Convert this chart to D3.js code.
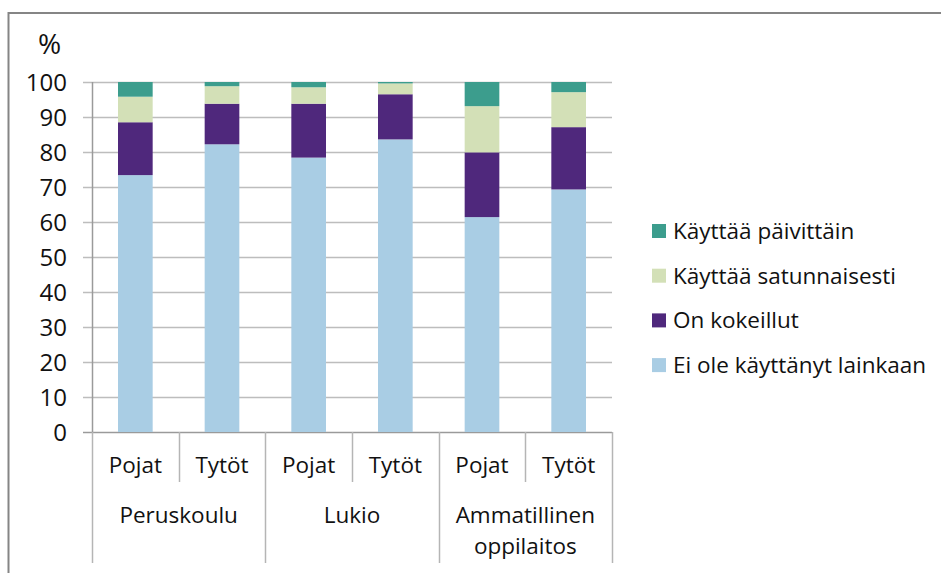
<!DOCTYPE html>
<html>
<head>
<meta charset="utf-8">
<script src="https://cdn.jsdelivr.net/npm/d3@7"></script>
<style>
  body { margin: 0; background: #fff; }
  svg { display: block; font-family: "Open Sans", sans-serif; }
</style>
</head>
<body>
<div id="chart"></div>
<script>
// 数据
const groups = ['Peruskoulu', 'Lukio', 'Ammatillinen oppilaitos'];
const genders = ['Pojat', 'Tytöt'];
const seriesNames = ['Ei ole käyttänyt lainkaan', 'On kokeillut', 'Käyttää satunnaisesti', 'Käyttää päivittäin'];
const seriesColors = ['#a9cde4', '#4f287c', '#d3e0b7', '#3c9d8d'];
const eiOle = [73.4, 82.2, 78.4, 83.6, 61.4, 69.3];
const kokeillut = [15.1, 11.6, 15.4, 12.9, 18.5, 17.8];
const satunnaisesti = [7.3, 5.0, 4.7, 3.1, 13.2, 10.0];
const paivittain = [4.2, 1.2, 1.5, 0.4, 6.9, 2.9];
const yTicks = [0, 10, 20, 30, 40, 50, 60, 70, 80, 90, 100];

const width = 941, height = 573;
const margin = { top: 82, right: 329, bottom: 141, left: 92 };
const textSize = 22.5;

const svg = d3.select('#chart').append('svg')
    .attr('width', width)
    .attr('height', height);

// 外框
svg.append('rect')
    .attr('x', 8.5).attr('y', 13)
    .attr('width', 960).attr('height', 600)
    .attr('fill', 'none')
    .attr('stroke', '#858585')
    .attr('stroke-width', 2);

const bars = d3.range(6).map(i => ({
    group: groups[Math.floor(i / 2)],
    gender: genders[i % 2],
    key: i,
    v0: eiOle[i], v1: kokeillut[i], v2: satunnaisesti[i], v3: paivittain[i]
}));

const x = d3.scaleBand()
    .domain(d3.range(6))
    .range([margin.left, width - margin.right])
    .paddingInner(0.6)
    .paddingOuter(0.3);

const y = d3.scaleLinear()
    .domain([0, 100])
    .range([height - margin.bottom, margin.top]);

// 网格线
svg.append('g')
    .selectAll('line')
    .data(yTicks)
    .join('line')
    .attr('x1', margin.left - 9)
    .attr('x2', width - margin.right)
    .attr('y1', d => Math.round(y(d)) + 0.5)
    .attr('y2', d => Math.round(y(d)) + 0.5)
    .attr('stroke', d => d === 0 ? '#9a9a9a' : '#bdbdbd')
    .attr('stroke-width', 1.5);

// Y轴标签
svg.append('g')
    .selectAll('text')
    .data(yTicks)
    .join('text')
    .attr('x', 67)
    .attr('y', d => y(d))
    .attr('dy', '0.36em')
    .attr('text-anchor', 'end')
    .attr('font-size', 24)
    .attr('fill', '#111')
    .text(d => d);

svg.append('text')
    .attr('x', 49.5).attr('y', 54)
    .attr('text-anchor', 'middle')
    .attr('font-size', 28)
    .attr('fill', '#111')
    .text('%');

// 堆叠
const stack = d3.stack().keys(['v0', 'v1', 'v2', 'v3']);
const layers = stack(bars);

svg.append('g')
    .selectAll('g')
    .data(layers)
    .join('g')
    .attr('fill', (d, i) => seriesColors[i])
    .selectAll('rect')
    .data(d => d)
    .join('rect')
    .attr('x', d => x(d.data.key))
    .attr('width', x.bandwidth())
    .attr('y', d => y(d[1]))
    .attr('height', d => y(d[0]) - y(d[1]));

// Y轴线
svg.append('line')
    .attr('x1', margin.left + 0.5).attr('x2', margin.left + 0.5)
    .attr('y1', y(100)).attr('y2', y(0))
    .attr('stroke', '#9a9a9a')
    .attr('stroke-width', 1.5);

// 分类分隔线
const x0 = margin.left;
const slot = (width - margin.right - x0) / 6;
const baseY = y(0);
svg.append('g')
    .selectAll('line')
    .data(d3.range(7))
    .join('line')
    .attr('x1', i => Math.round(x0 + i * slot) + 0.5)
    .attr('x2', i => Math.round(x0 + i * slot) + 0.5)
    .attr('y1', baseY)
    .attr('y2', i => i % 2 === 0 ? 563 : 482)
    .attr('stroke', '#b5b5b5')
    .attr('stroke-width', 1.5);

svg.append('g')
    .selectAll('text')
    .data(bars)
    .join('text')
    .attr('x', d => x0 + (d.key + 0.5) * slot)
    .attr('y', 473)
    .attr('text-anchor', 'middle')
    .attr('font-size', textSize)
    .attr('fill', '#111')
    .text(d => d.gender);

const groupLines = [['Peruskoulu'], ['Lukio'], ['Ammatillinen', 'oppilaitos']];
svg.append('g')
    .selectAll('text')
    .data(groups)
    .join('text')
    .attr('x', (d, i) => x0 + (i * 2 + 1) * slot)
    .attr('y', 523)
    .attr('text-anchor', 'middle')
    .attr('font-size', textSize)
    .attr('fill', '#111')
    .each(function(d, i) {
        d3.select(this).selectAll('tspan')
            .data(groupLines[i])
            .join('tspan')
            .attr('x', x0 + (i * 2 + 1) * slot)
            .attr('dy', (t, k) => k === 0 ? 0 : 31)
            .text(t => t);
    });

// 图例
const legendOrder = [3, 2, 1, 0];
const legend = svg.append('g')
    .selectAll('g')
    .data(legendOrder)
    .join('g')
    .attr('transform', (d, i) => `translate(652, ${231 + i * 44.7})`);

legend.append('rect')
    .attr('x', 0).attr('y', -7)
    .attr('width', 14).attr('height', 14)
    .attr('fill', d => seriesColors[d]);

legend.append('text')
    .attr('x', 21).attr('y', 0)
    .attr('dy', '0.35em')
    .attr('font-size', textSize)
    .attr('fill', '#111')
    .text(d => seriesNames[d]);
</script>
</body>
</html>
